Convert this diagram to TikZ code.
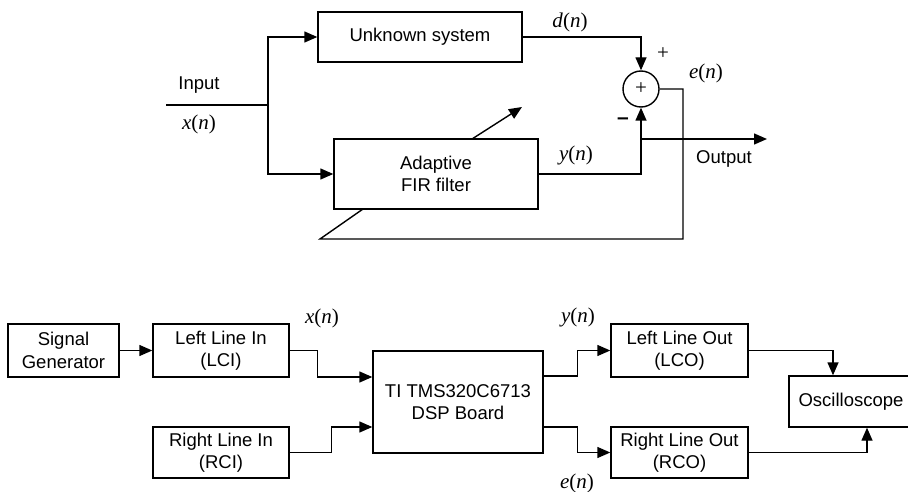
\documentclass[tikz,border=0pt]{standalone}
\usepackage{fontspec}
\setmainfont{Liberation Sans}
\newfontfamily\serfont{Liberation Serif}
\usetikzlibrary{arrows.meta}
\newcommand{\sig}[1]{{\serfont\fontsize{21}{24}\selectfont\textit{#1}(\textit{n})}}
\tikzset{
  blk/.style={draw, line width=1.4pt, inner sep=0pt, align=center, font=\fontsize{18.5}{22.5}\selectfont},
  wire/.style={line width=1.4pt},
  arr/.style={line width=1.4pt, -{Triangle[length=13pt,width=11pt]}},
  lbl/.style={inner sep=0pt, font=\fontsize{18.5}{22}\selectfont},
}
\begin{document}
\begin{tikzpicture}[x=1pt,y=-1pt]
\useasboundingbox (0,0) rectangle (908,492);
% ---------- top diagram ----------
\node[blk, minimum width=204pt, minimum height=50pt] (unk) at (420,37) {Unknown system};
\node[blk, minimum width=204pt, minimum height=70pt] (ada) at (436,174) {Adaptive\\FIR filter};
\node[draw, line width=1.4pt, circle, minimum size=36pt, inner sep=0pt] (sum) at (641,89) {\serfont\fontsize{21}{21}\selectfont +};
\coordinate (in) at (166,105);
\coordinate (j) at (268,105);
\coordinate (oj) at (641,139);
\coordinate (out) at (767,139);
\coordinate (fbA) at (683,239);
\coordinate (fbB) at (320,239);
\coordinate (fbC) at (363,209);
\coordinate (adA) at (472,139);
\coordinate (adB) at (522,107);
\draw[wire] (in) -- (j);
\draw[arr] (j) |- (unk.west);
\draw[arr] (j) |- (ada.west);
\draw[arr] (unk.east) -| (sum.north);
\draw[arr] (ada.east) -| (sum.south);
\draw[arr] (oj) -- (out);
\draw[wire] (sum.east) -| (fbA) -- (fbB) -- (fbC);
\draw[arr] (adA) -- (adB);
\node[lbl] (linput) at (199,85) {Input};
\node[lbl] (lx) at (199,124) {\sig{x}};
\node[lbl] (ld) at (570,22) {\sig{d}};
\node[lbl] (le) at (706,73) {\sig{e}};
\node[lbl] (ly) at (576,155) {\sig{y}};
\node[lbl] (lplus) at (663,54) {\serfont\fontsize{21}{21}\selectfont +};
\node[lbl] (lminus) at (623,121) {\bfseries\fontsize{21}{21}\selectfont –};
\node[lbl] (lout) at (724,159) {Output};
% ---------- bottom diagram ----------
\node[blk, minimum width=111pt, minimum height=53pt] (sg) at (63.5,350.5) {Signal\\Generator};
\node[blk, minimum width=136pt, minimum height=53pt] (lli) at (221,350.5) {Left Line In\\(LCI)};
\node[blk, minimum width=136pt, minimum height=51pt] (rli) at (221,452.5) {Right Line In\\(RCI)};
\node[blk, minimum width=170pt, minimum height=102pt] (dsp) at (458,402) {TI TMS320C6713\\DSP Board};
\node[blk, minimum width=137pt, minimum height=53pt] (llo) at (679.5,350.5) {Left Line Out\\(LCO)};
\node[blk, minimum width=137pt, minimum height=51pt] (rlo) at (679.5,452.5) {Right Line Out\\(RCO)};
\node[blk, minimum width=124pt, minimum height=51pt] (osc) at (851,401.5) {Oscilloscope};
\draw[arr] (sg) -- (lli);
\draw[arr] (lli.east) -- ++(28,0) |- ([yshift=25pt]dsp.west);
\draw[arr] (rli.east) -- ++(42,0) |- ([yshift=-25pt]dsp.west);
\draw[arr] ([yshift=26pt]dsp.east) -- ++(34,0) |- (llo.west);
\draw[arr] ([yshift=-25pt]dsp.east) -- ++(34,0) |- (rlo.west);
\draw[arr] (llo.east) -| ([xshift=-18pt]osc.north);
\draw[arr] (rlo.east) -| ([xshift=16pt]osc.south);
\node[lbl] (bx) at (322,318) {\sig{x}};
\node[lbl] (by) at (578,317) {\sig{y}};
\node[lbl] (be) at (577,483) {\sig{e}};
\end{tikzpicture}
\end{document}
